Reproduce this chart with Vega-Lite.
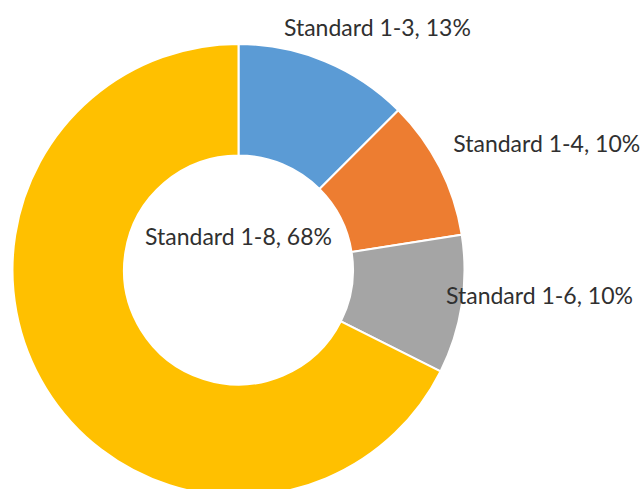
{
  "$schema": "https://vega.github.io/schema/vega-lite/v6.json",
  "width": 477,
  "height": 438,
  "autosize": "none",
  "padding": {"left": 0, "top": 51, "right": 166, "bottom": 0},
  "background": "white",
  "view": {"stroke": null},
  "data": {
    "values": [
      {"cat": "Standard 1-3", "value": 12.5, "label": "Standard 1-3, 13%"},
      {"cat": "Standard 1-4", "value": 10.0, "label": "Standard 1-4, 10%"},
      {"cat": "Standard 1-6", "value": 9.9, "label": "Standard 1-6, 10%"},
      {"cat": "Standard 1-8", "value": 67.6, "label": "Standard 1-8, 68%"}
    ]
  },
  "encoding": {
    "theta": {"field": "value", "type": "quantitative", "stack": true},
    "order": {"field": "cat", "type": "ordinal", "sort": "ascending"}
  },
  "layer": [
    {
      "mark": {"type": "arc", "outerRadius": 226, "innerRadius": 114.5, "stroke": "white", "strokeWidth": 2},
      "encoding": {
        "color": {
          "field": "cat",
          "type": "nominal",
          "scale": {
            "domain": ["Standard 1-3", "Standard 1-4", "Standard 1-6", "Standard 1-8"],
            "range": ["#5B9BD5", "#ED7D31", "#A5A5A5", "#FFC000"]
          },
          "legend": null
        }
      }
    },
    {
      "mark": {"type": "text", "radius": 261, "align": "center", "baseline": "middle", "dx": 39, "dy": 0, "font": "Lato", "fontSize": 23, "fill": "#303030"},
      "encoding": {
        "detail": {"field": "cat", "type": "nominal"},
        "text": {"field": "label", "type": "nominal", "condition": {"test": "datum.cat !== 'Standard 1-3'", "value": ""}}
      }
    },
    {
      "mark": {"type": "text", "radius": 250, "align": "left", "baseline": "middle", "dx": -8, "dy": -12, "font": "Lato", "fontSize": 23, "fill": "#303030"},
      "encoding": {
        "detail": {"field": "cat", "type": "nominal"},
        "text": {"field": "label", "type": "nominal", "condition": {"test": "datum.cat !== 'Standard 1-4'", "value": ""}}
      }
    },
    {
      "mark": {"type": "text", "radius": 210, "align": "left", "baseline": "middle", "dx": 0, "dy": -5, "font": "Lato", "fontSize": 23, "fill": "#303030"},
      "encoding": {
        "detail": {"field": "cat", "type": "nominal"},
        "text": {"field": "label", "type": "nominal", "condition": {"test": "datum.cat !== 'Standard 1-6'", "value": ""}}
      }
    },
    {
      "mark": {"type": "text", "radius": 0, "align": "center", "baseline": "middle", "dx": 0, "dy": -32, "font": "Lato", "fontSize": 23, "fill": "#303030"},
      "encoding": {
        "detail": {"field": "cat", "type": "nominal"},
        "text": {"field": "label", "type": "nominal", "condition": {"test": "datum.cat !== 'Standard 1-8'", "value": ""}}
      }
    }
  ]
}
